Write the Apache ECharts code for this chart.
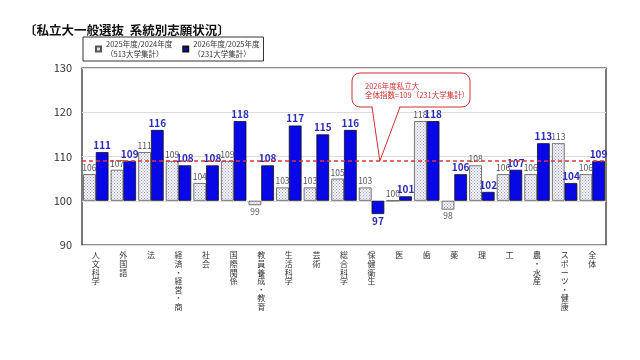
<!DOCTYPE html>
<html><head><meta charset="utf-8">
<script src="https://cdn.jsdelivr.net/npm/echarts@6/dist/echarts.min.js"></script>
<style>html,body{margin:0;padding:0;background:#fff}#c{width:640px;height:360px}</style>
</head><body><div id="c"></div>
<script>
const categories = ['人文科学','外国語','法','経済・経営・商','社会','国際関係','教員養成・教育','生活科学','芸術','総合科学','保健衛生','医','歯','薬','理','工','農・水産','スポーツ・健康','全体'];
const prevValues = [106,107,111,109,104,109,99,103,103,105,103,100,118,98,108,106,106,113,106];
const currValues = [111,109,116,108,108,118,108,117,115,116,97,101,118,106,102,107,113,104,109];
const overallIndex = 109;
const seriesNames = ['2025年度/2024年度','2026年度/2025年度'];
const seriesNotes = ['（513大学集計）','（231大学集計）'];

const pc = document.createElement('canvas');
pc.width = 3; pc.height = 3;
const g = pc.getContext('2d');
g.fillStyle = '#f4f4fa'; g.fillRect(0,0,3,3);
g.fillStyle = '#9a9ab4'; g.fillRect(0,0,1,1); g.fillRect(1.5,1.5,1,1);

const chart = echarts.init(document.getElementById('c'));
const font = '"Noto Sans CJK JP", "Noto Sans", sans-serif';
const below = v => v < 100 ? {value:v, label:{position:'bottom'}} : v;
chart.setOption({
  animation:false,
  textStyle:{fontFamily:font},
  title:{text:'〔私立大一般選抜  系統別志願状況〕', left:19, top:19,
    textStyle:{fontSize:12.5, fontWeight:'bold', color:'#111', fontFamily:font}},
  legend:{left:83, top:37, orient:'horizontal', itemWidth:5, itemHeight:5, itemGap:10,
    borderColor:'#333', borderWidth:1, padding:[2,4,2,12],
    icon:'rect',
    formatter: n => n + '\n' + seriesNotes[seriesNames.indexOf(n)],
    textStyle:{fontSize:7.5, color:'#333', lineHeight:10, fontFamily:font}},
  grid:{left:82, right:34, top:68, bottom:115, show:true, borderColor:'#222', borderWidth:1.2},
  xAxis:{type:'category', data:categories,
    axisLine:{show:false}, axisTick:{show:false},
    axisLabel:{interval:0, fontSize:8, color:'#333', lineHeight:8.6, verticalAlign:'top',
      formatter: v => v.split('').join('\n'), margin:6}},
  yAxis:{type:'value', min:90, max:130, interval:10, startValue:100,
    axisLine:{show:false}, axisTick:{show:false},
    axisLabel:{fontSize:11, color:'#333', margin:10},
    splitLine:{lineStyle:{color:'#dcdcdc'}}},
  series:[
    {name:seriesNames[0], type:'bar', data:prevValues.map(below), barWidth:12.7, barGap:'0%',
      itemStyle:{color:{image:pc, repeat:'repeat'}, borderColor:'#555', borderWidth:0.8},
      label:{show:true, position:'top', fontSize:8.5, color:'#555', distance:2},
      markLine:{silent:true, symbol:'none', data:[{yAxis:overallIndex}],
        lineStyle:{color:'#d83838', type:[4,3], width:1.5}, label:{show:false}}},
    {name:seriesNames[1], type:'bar', data:currValues.map(below), barWidth:12.7,
      itemStyle:{color:'#0808e6', borderColor:'#111', borderWidth:0.8},
      label:{show:true, position:'top', fontSize:10, fontWeight:'bold', color:'#2b2bb8', distance:2}}
  ]
});
const y109 = chart.convertToPixel({yAxisIndex:0}, overallIndex);
const xa = chart.convertToPixel({xAxisIndex:0}, 10);
const xb = chart.convertToPixel({xAxisIndex:0}, 11);
const tipX = xa + (xb - xa) * 0.3;
const bx = 352, by = 73, bw = 118, bh = 34;
const tailL = 372, tailR = 400;
chart.setOption({graphic:[
  {type:'rect', shape:{x:bx, y:by, width:bw, height:bh, r:8}, style:{fill:'#fff', stroke:'#d03030', lineWidth:1}, z:100},
  {type:'polygon', shape:{points:[[tailL+0.5,by+bh-1],[tipX,y109],[tailR-0.5,by+bh-1]]}, style:{fill:'#fff', stroke:null}, z:101},
  {type:'polyline', shape:{points:[[tailL,by+bh],[tipX,y109],[tailR,by+bh]]}, style:{fill:null, stroke:'#d03030', lineWidth:1}, z:102},
  {type:'text', left:bx+13, top:by+8, z:103,
    style:{text:'2026年度私立大\n全体指数=109（231大学集計）', fill:'#d03030', fontSize:7.5, lineHeight:9.5, fontFamily:font}}
]});
</script></body></html>
